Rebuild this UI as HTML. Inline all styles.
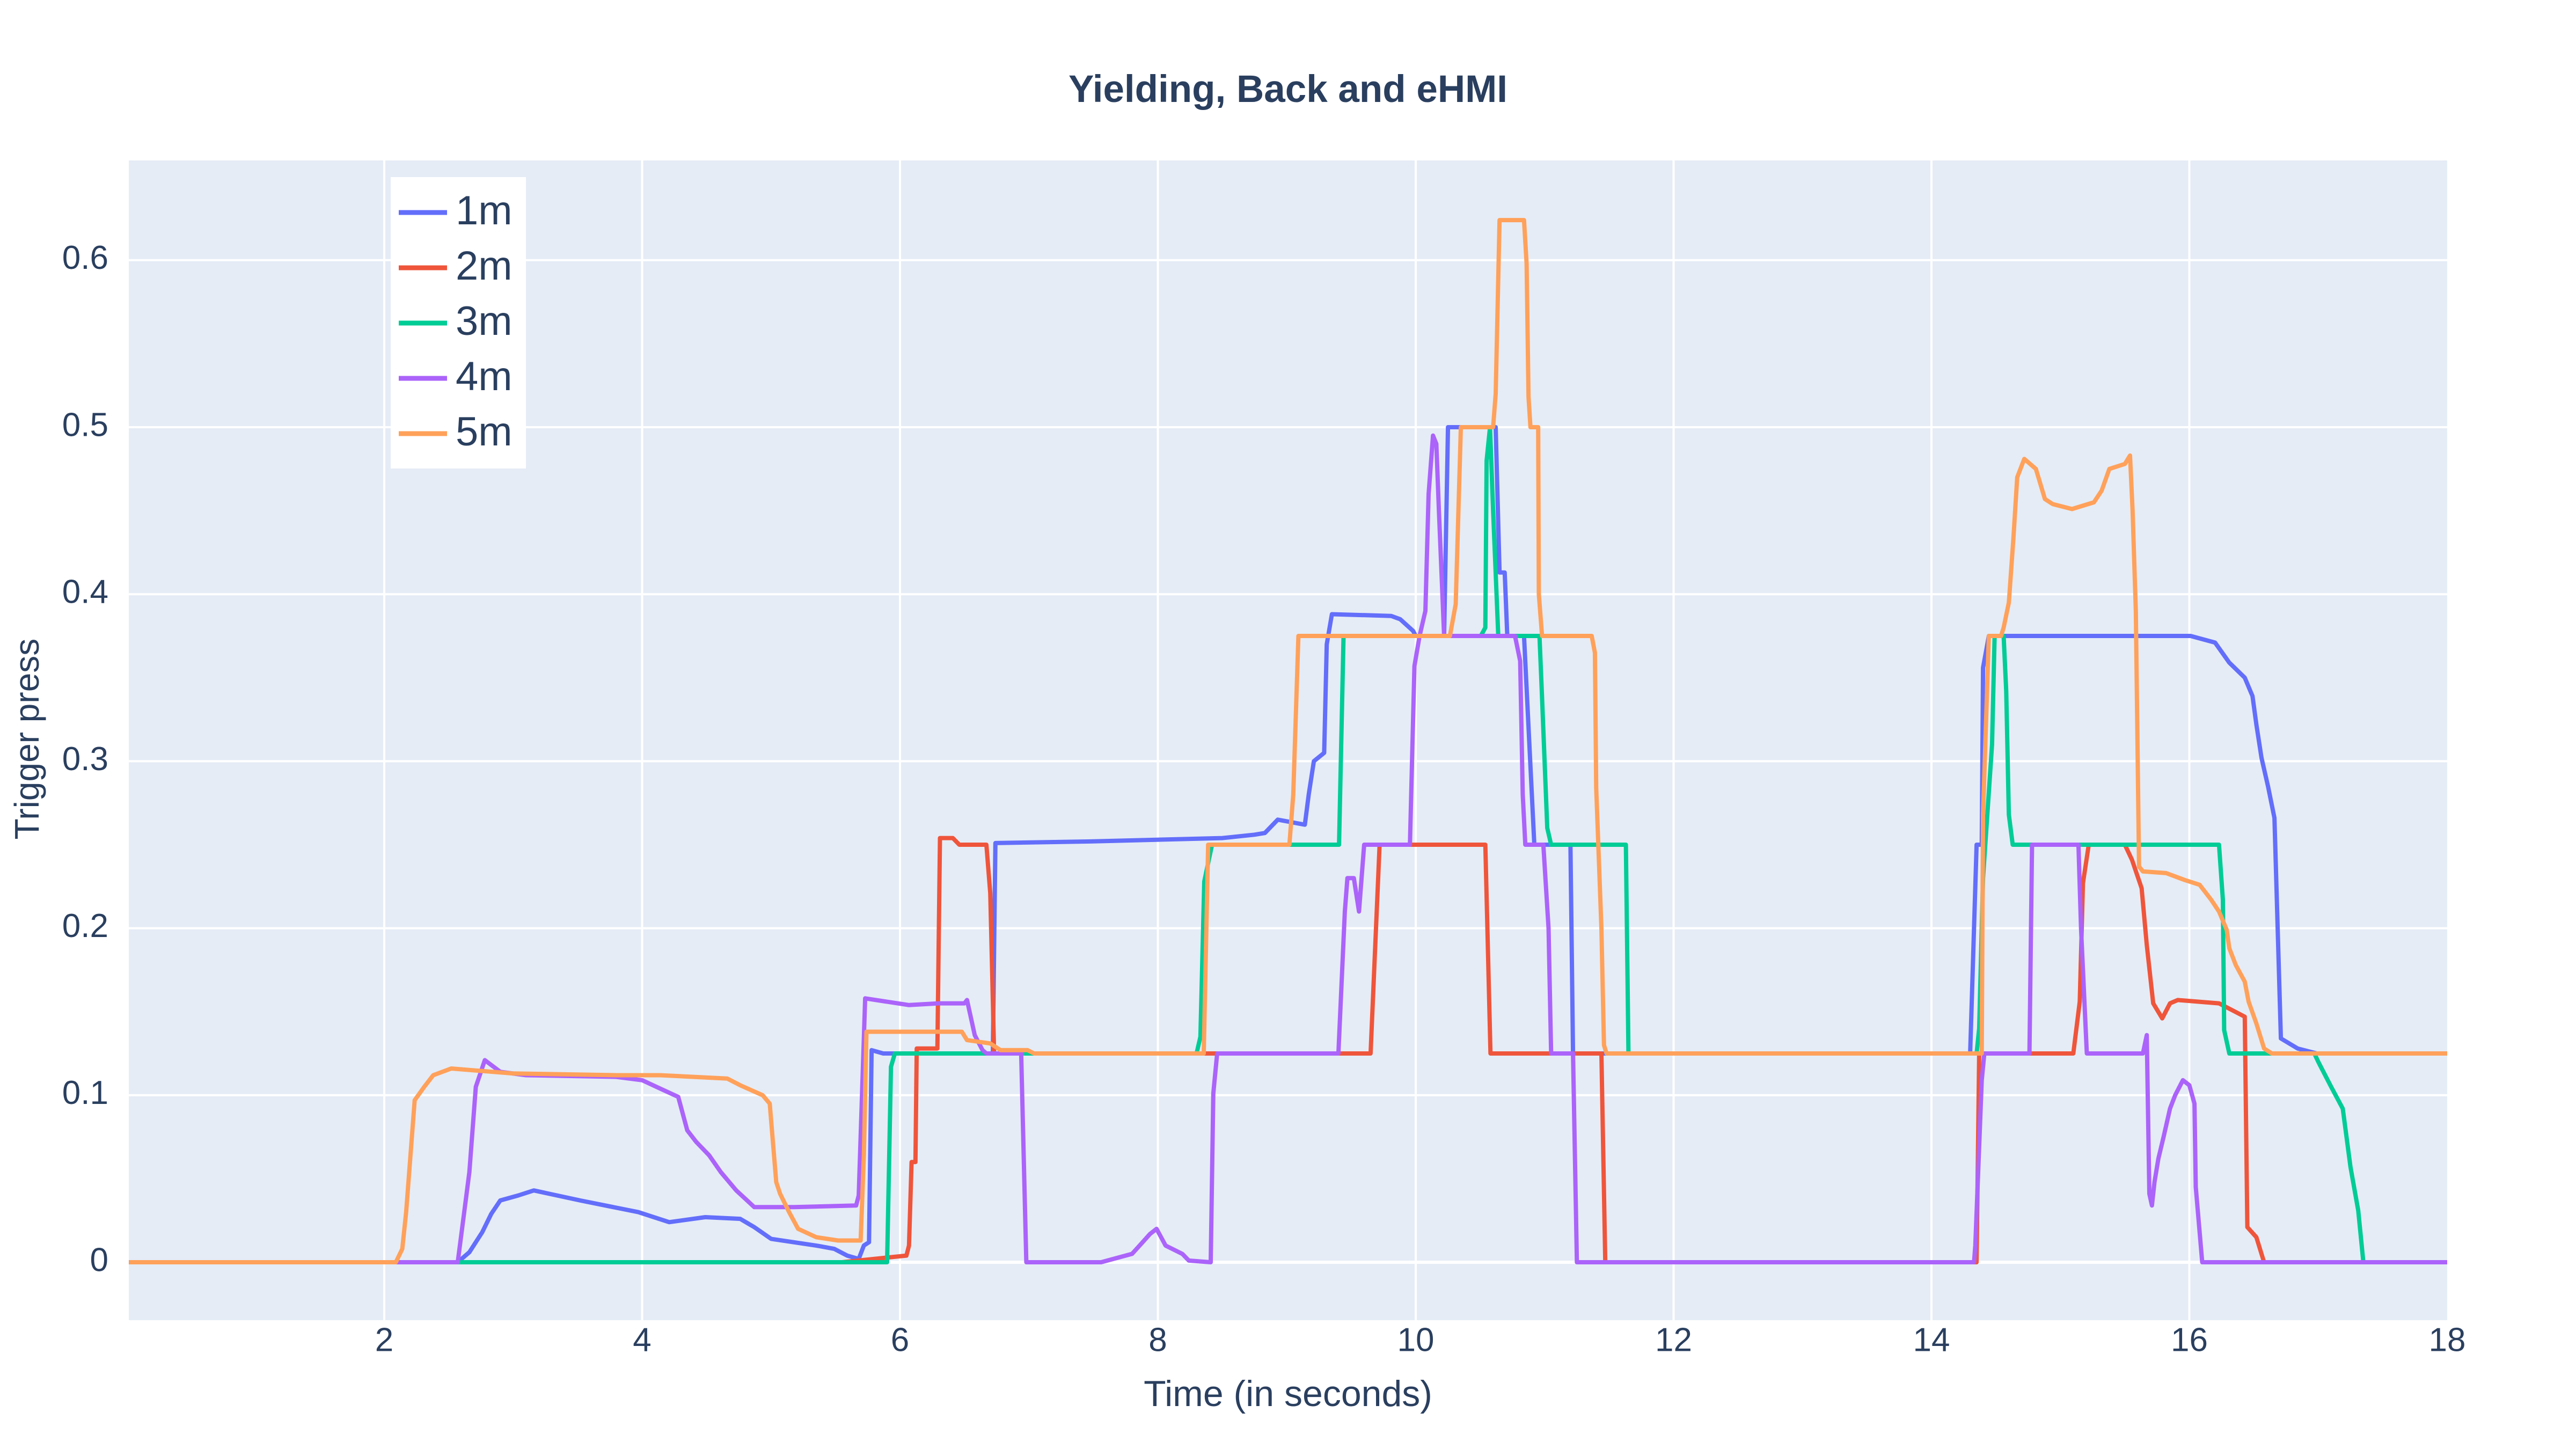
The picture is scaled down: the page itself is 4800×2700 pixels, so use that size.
<!DOCTYPE html>
<html><head><meta charset="utf-8"><style>
html,body{margin:0;padding:0;background:#fff;}
svg{display:block;font-family:"Liberation Sans",sans-serif;}
</style></head><body>
<svg id="chart" width="4800" height="2700" viewBox="0 0 4800 2700" xmlns="http://www.w3.org/2000/svg">
<rect x="0" y="0" width="4800" height="2700" fill="#ffffff"/>
<rect x="240" y="299" width="4320" height="2161" fill="#e5ecf6"/>
<g id="grid"></g>
<g id="series"></g>
<g id="ticks"></g>
<text x="2400" y="171" text-anchor="middle" dominant-baseline="middle" font-size="71" font-weight="bold" fill="#2a3f5f">Yielding, Back and eHMI</text>
<text x="2400" y="2602" text-anchor="middle" dominant-baseline="middle" font-size="68" fill="#2a3f5f">Time (in seconds)</text>
<text x="55" y="1377" text-anchor="middle" dominant-baseline="middle" font-size="64" fill="#2a3f5f" transform="rotate(-90 55 1377)">Trigger press</text>
<g id="legend">
<rect x="728" y="330" width="252" height="543" fill="#ffffff"/>
</g>
</svg>
<script>
const xTicks = [2,4,6,8,10,12,14,16,18];
const yTicks = [0,0.1,0.2,0.3,0.4,0.5,0.6];
const yTickLabels = ["0","0.1","0.2","0.3","0.4","0.5","0.6"];
const seriesNames = ["1m","2m","3m","4m","5m"];
const seriesColors = ["#636efa","#EF553B","#00cc96","#ab63fa","#FFA15A"];

const t1m = [0.02,2.57,2.66,2.76,2.83,2.9,3.04,3.16,3.52,3.97,4.21,4.49,4.76,4.87,5.0,5.35,5.49,5.59,5.68,5.72,5.76,5.78,5.87,6.72,6.74,7.5,8.5,8.75,8.83,8.93,9.14,9.17,9.21,9.29,9.31,9.35,9.81,9.88,9.98,10.0,10.22,10.25,10.62,10.65,10.69,10.71,10.84,10.92,11.2,11.22,14.3,14.35,14.39,14.4,14.445,16.01,16.2,16.31,16.43,16.49,16.52,16.56,16.61,16.66,16.71,16.84,16.99,18.0];
const v1m = [0,0,0.006,0.018,0.029,0.037,0.04,0.043,0.037,0.03,0.024,0.027,0.026,0.021,0.014,0.01,0.008,0.004,0.002,0.01,0.012,0.127,0.125,0.125,0.251,0.252,0.254,0.256,0.257,0.265,0.262,0.28,0.3,0.305,0.37,0.388,0.387,0.385,0.378,0.375,0.375,0.5,0.5,0.413,0.413,0.375,0.375,0.25,0.25,0.125,0.125,0.25,0.25,0.356,0.375,0.375,0.371,0.359,0.35,0.339,0.322,0.302,0.285,0.266,0.134,0.128,0.125,0.125];

const t2m = [0.02,5.55,6.05,6.07,6.09,6.12,6.13,6.29,6.31,6.41,6.46,6.67,6.7,6.73,9.65,9.72,10.54,10.58,11.44,11.47,14.35,14.37,15.1,15.15,15.175,15.22,15.5,15.555,15.63,15.67,15.72,15.79,15.85,15.91,16.23,16.43,16.45,16.52,16.58,18.0];
const v2m = [0,0,0.004,0.01,0.06,0.06,0.128,0.128,0.254,0.254,0.25,0.25,0.221,0.125,0.125,0.25,0.25,0.125,0.125,0,0,0.125,0.125,0.156,0.227,0.25,0.25,0.241,0.224,0.19,0.155,0.146,0.155,0.157,0.155,0.147,0.021,0.015,0,0];

const t3m = [0.02,5.9,5.93,5.96,8.3,8.33,8.36,8.42,9.405,9.44,10.505,10.54,10.55,10.576,10.6,10.64,10.96,10.98,11.02,11.05,11.63,11.65,14.35,14.37,14.4,14.47,14.49,14.56,14.58,14.6,14.63,16.23,16.26,16.27,16.31,16.97,17.0,17.1,17.19,17.25,17.31,17.35,18.0];
const v3m = [0,0,0.117,0.125,0.125,0.135,0.228,0.25,0.25,0.375,0.375,0.38,0.48,0.5,0.45,0.375,0.375,0.338,0.26,0.25,0.25,0.125,0.125,0.14,0.23,0.31,0.375,0.375,0.342,0.268,0.25,0.25,0.217,0.139,0.125,0.125,0.12,0.105,0.092,0.057,0.031,0,0];

const t4m = [0.02,2.57,2.62,2.66,2.71,2.78,2.9,3.1,3.8,4.0,4.14,4.28,4.35,4.42,4.52,4.61,4.73,4.87,5.18,5.66,5.68,5.73,6.07,6.3,6.5,6.52,6.58,6.64,6.67,6.94,6.98,7.56,7.8,7.87,7.94,7.99,8.06,8.19,8.24,8.41,8.43,8.46,9.4,9.45,9.47,9.52,9.56,9.6,9.955,9.99,10.03,10.075,10.1,10.134,10.16,10.18,10.22,10.77,10.81,10.83,10.85,10.99,11.03,11.05,11.22,11.25,14.33,14.34,14.39,14.41,14.76,14.78,15.14,15.16,15.205,15.64,15.67,15.69,15.71,15.73,15.76,15.8,15.85,15.89,15.95,16.0,16.04,16.05,16.1,18.0];
const v4m = [0,0,0.03,0.054,0.105,0.121,0.114,0.112,0.111,0.109,0.104,0.099,0.079,0.072,0.064,0.054,0.043,0.033,0.033,0.034,0.04,0.158,0.154,0.155,0.155,0.157,0.136,0.127,0.125,0.125,0,0,0.005,0.011,0.017,0.02,0.01,0.005,0.001,0,0.101,0.125,0.125,0.21,0.23,0.23,0.21,0.25,0.25,0.357,0.375,0.39,0.46,0.495,0.49,0.45,0.375,0.375,0.36,0.28,0.25,0.25,0.2,0.125,0.125,0,0,0.01,0.109,0.125,0.125,0.25,0.25,0.2,0.125,0.125,0.136,0.041,0.034,0.048,0.062,0.075,0.092,0.1,0.109,0.106,0.095,0.045,0,0];

const t5m = [0.02,2.09,2.14,2.17,2.236,2.31,2.38,2.52,3.0,3.8,4.14,4.66,4.76,4.935,4.99,5.04,5.07,5.14,5.21,5.35,5.52,5.695,5.72,5.74,6.48,6.52,6.7,6.78,6.99,7.04,8.356,8.39,9.02,9.03,9.05,9.09,10.265,10.31,10.35,10.6,10.62,10.65,10.84,10.86,10.875,10.89,10.95,10.955,10.98,11.365,11.39,11.4,11.44,11.46,11.48,14.39,14.4,14.445,14.54,14.56,14.6,14.635,14.665,14.72,14.81,14.88,14.94,15.09,15.26,15.32,15.38,15.5,15.54,15.56,15.585,15.61,15.64,15.82,15.96,16.08,16.17,16.23,16.29,16.31,16.36,16.43,16.46,16.52,16.58,16.64,18.0];
const v5m = [0,0,0.008,0.03,0.097,0.105,0.112,0.116,0.113,0.112,0.112,0.11,0.106,0.1,0.095,0.048,0.041,0.03,0.02,0.015,0.013,0.013,0.064,0.138,0.138,0.133,0.131,0.127,0.127,0.125,0.125,0.25,0.25,0.26,0.28,0.375,0.375,0.394,0.5,0.5,0.52,0.624,0.624,0.598,0.518,0.5,0.5,0.4,0.375,0.375,0.365,0.284,0.2,0.13,0.125,0.125,0.268,0.375,0.375,0.38,0.395,0.433,0.47,0.481,0.475,0.457,0.454,0.451,0.455,0.462,0.475,0.478,0.483,0.45,0.39,0.237,0.234,0.233,0.229,0.226,0.217,0.21,0.199,0.188,0.178,0.168,0.156,0.143,0.128,0.125,0.125];

const xs = [t1m,t2m,t3m,t4m,t5m];
const ys = [v1m,v2m,v3m,v4m,v5m];

const PL=240, PR=4560, PT=299, PB=2460;
const X0=2, X1=18, XP0=716, XP1=4560;
function xPos(t){ return XP0 + (t - X0) * (XP1 - XP0) / (X1 - X0); }
function yPos(v){ return 2352 - v * 3112; }

const NS="http://www.w3.org/2000/svg";
function mk(tag, attrs, parent){
  const e=document.createElementNS(NS,tag);
  for(const k in attrs) e.setAttribute(k, attrs[k]);
  parent.appendChild(e); return e;
}
const grid=document.getElementById('grid');
const ticks=document.getElementById('ticks');
xTicks.forEach(function(t){
  const x=xPos(t);
  if (x < PR-2) {
    const l=mk('line',{x1:x,x2:x,y1:PT,y2:PB,stroke:'#ffffff','stroke-width':4},grid);
    
    
  }
  const tx=mk('text',{x:x,y:2501,'text-anchor':'middle','dominant-baseline':'middle','font-size':62,fill:'#2a3f5f'},ticks);
  tx.textContent=String(t);
  
  
});
yTicks.forEach(function(v,i){
  const y=yPos(v);
  const l=mk('line',{x1:PL,x2:PR,y1:y,y2:y,stroke:'#ffffff','stroke-width': v===0?6:4},grid);
  
  
  const tx=mk('text',{x:202,y:y,'text-anchor':'end','dominant-baseline':'middle','font-size':62,fill:'#2a3f5f'},ticks);
  tx.textContent=yTickLabels[i];
  
  
});
const sg=document.getElementById('series');
xs.forEach(function(tx,i){
  const pts=tx.map(function(t,j){ return xPos(t).toFixed(1)+','+yPos(ys[i][j]).toFixed(1); }).join(' ');
  const p=mk('polyline',{points:pts,fill:'none',stroke:seriesColors[i],'stroke-width':8,'stroke-linejoin':'round'},sg);
  
  
});
const lg=document.getElementById('legend');
seriesNames.forEach(function(n,i){
  const y=396+103*i;
  const g=mk('g',{},lg);
  
  
  mk('line',{x1:743,x2:833,y1:y,y2:y,stroke:seriesColors[i],'stroke-width':9},g);
  const t=mk('text',{x:849,y:y+2,'dominant-baseline':'middle','font-size':76,fill:'#2a3f5f'},g);
  t.textContent=n;
});
</script>
</body></html>
